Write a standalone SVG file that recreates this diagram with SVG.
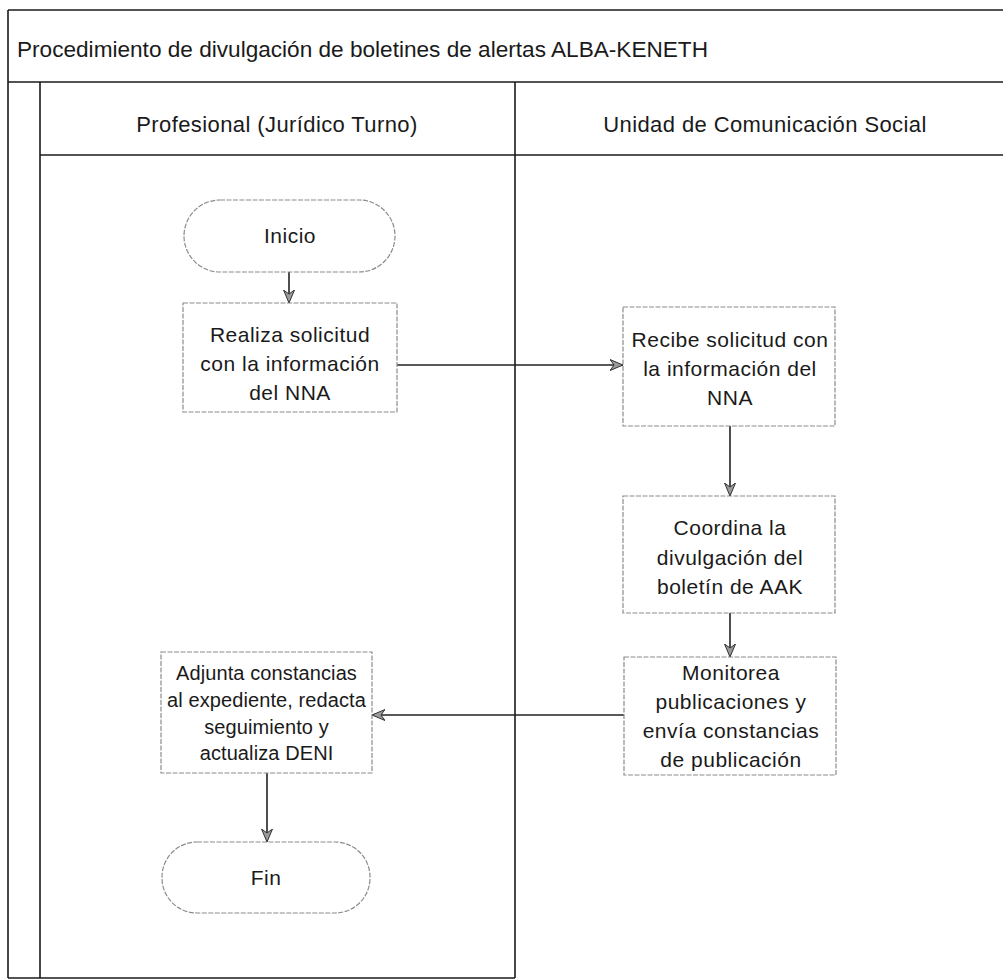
<svg xmlns="http://www.w3.org/2000/svg" width="1003" height="980" viewBox="0 0 1003 980">
  <style>
    .frame { stroke: #1a1a1a; stroke-width: 1.6; fill: none; }
    .box { fill: #ffffff; stroke: #8c8c8c; stroke-width: 1.2; stroke-dasharray: 5 1.5; }
    .txt { font-family: "Liberation Sans", Arial, sans-serif; font-size: 21px; letter-spacing: 0.5px; fill: #1a1a1a; text-anchor: middle; }
    .tight { font-size: 20px; letter-spacing: 0.1px; }
    .hdr { font-family: "Liberation Sans", Arial, sans-serif; font-size: 22px; fill: #1a1a1a; }
    .lane { text-anchor: middle; letter-spacing: 0.4px; }
    .conn { stroke: #222; stroke-width: 1.6; fill: none; marker-end: url(#arrow); }
  </style>
  <defs>
    <marker id="arrow" viewBox="0 0 14 12" refX="13" refY="6" markerWidth="14" markerHeight="12" markerUnits="userSpaceOnUse" orient="auto">
      <path d="M0,0.5 L13,6 L0,11.5 L4,6 z" fill="#9a9a9a" stroke="#333" stroke-width="1"/>
    </marker>
  </defs>
  <rect width="1003" height="980" fill="#ffffff"/>

  <!-- Swimlane pool -->
  <g id="pool">
    <line class="frame" x1="8" y1="10" x2="1003" y2="10"/>
    <line class="frame" x1="8" y1="10" x2="8" y2="978"/>
    <line class="frame" x1="8" y1="82" x2="1003" y2="82"/>
    <line class="frame" x1="40" y1="82" x2="40" y2="978"/>
    <line class="frame" x1="40" y1="155" x2="1003" y2="155"/>
    <line class="frame" x1="515" y1="82" x2="515" y2="978"/>
    <line class="frame" x1="8" y1="978" x2="515" y2="978"/>
    <text class="hdr" x="17" y="57" textLength="691" lengthAdjust="spacingAndGlyphs">Procedimiento de divulgación de boletines de alertas ALBA-KENETH</text>
  </g>

  <g id="lane-profesional">
    <text class="hdr lane" x="277" y="132">Profesional (Jurídico Turno)</text>
  </g>
  <g id="lane-comunicacion">
    <text class="hdr lane" x="765" y="132">Unidad de Comunicación Social</text>
  </g>

  <!-- Connectors -->
  <g id="connectors">
    <line class="conn" x1="289" y1="272" x2="289" y2="303"/>
    <line class="conn" x1="397" y1="365" x2="623" y2="365"/>
    <line class="conn" x1="730" y1="426" x2="730" y2="496"/>
    <line class="conn" x1="730" y1="613" x2="730" y2="657"/>
    <line class="conn" x1="624" y1="715" x2="372" y2="715"/>
    <line class="conn" x1="267" y1="773" x2="267" y2="842"/>
  </g>

  <!-- Process nodes -->
  <g id="inicio">
    <rect class="box" x="184" y="200" width="211" height="72" rx="36" ry="36"/>
    <text class="txt" x="290" y="243">Inicio</text>
  </g>

  <g id="realiza-solicitud">
    <rect class="box" x="183" y="303" width="214" height="109"/>
    <text class="txt" x="290" y="342">Realiza solicitud</text>
    <text class="txt" x="290" y="371">con la información</text>
    <text class="txt" x="290" y="400">del NNA</text>
  </g>

  <g id="recibe-solicitud">
    <rect class="box" x="623" y="307" width="212" height="119"/>
    <text class="txt" x="730" y="347">Recibe solicitud con</text>
    <text class="txt" x="730" y="376">la información del</text>
    <text class="txt" x="730" y="405">NNA</text>
  </g>

  <g id="coordina-divulgacion">
    <rect class="box" x="623" y="496" width="212" height="117"/>
    <text class="txt" x="730" y="535">Coordina la</text>
    <text class="txt" x="730" y="565">divulgación del</text>
    <text class="txt" x="730" y="594">boletín de AAK</text>
  </g>

  <g id="monitorea-publicaciones">
    <rect class="box" x="624" y="657" width="212" height="118"/>
    <text class="txt" x="731" y="680">Monitorea</text>
    <text class="txt" x="731" y="709">publicaciones y</text>
    <text class="txt" x="731" y="738">envía constancias</text>
    <text class="txt" x="731" y="767">de publicación</text>
  </g>

  <g id="adjunta-constancias">
    <rect class="box" x="161" y="652" width="211" height="121"/>
    <text class="txt tight" x="266.5" y="680">Adjunta constancias</text>
    <text class="txt tight" x="266.5" y="707">al expediente, redacta</text>
    <text class="txt tight" x="266.5" y="734">seguimiento y</text>
    <text class="txt tight" x="266.5" y="760">actualiza DENI</text>
  </g>

  <g id="fin">
    <rect class="box" x="162" y="842" width="208" height="71" rx="35" ry="35"/>
    <text class="txt" x="266" y="885">Fin</text>
  </g>
</svg>
